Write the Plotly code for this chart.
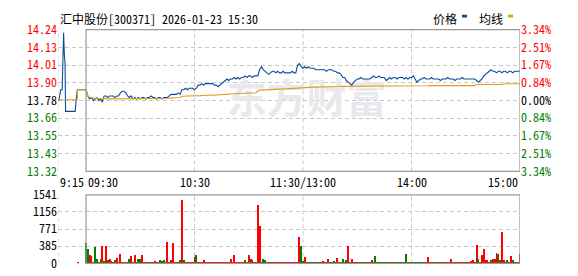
import plotly.graph_objects as go

# ---------------- data ----------------
title_text = "汇中股份[300371] 2026-01-23 15:30"
prev_close = 13.78

# pre-market (minutes relative to 09:30)
pre_t = [-15.0, -14.0, -13.2, -12.8, -12.4, -12.0, -11.6, -11.3, -6.0, -5.5, -4.8]
pre_price = [13.78, 13.85, 13.85, 14.13, 14.22, 14.08, 14.02, 13.71, 13.71, 13.78, 13.85]
pre_avg_t = [-15.0, -4.8, -4.7]
pre_avg = [13.785, 13.785, 13.85]
pre_vol_t = [-4.6]
pre_vol = [25]

price = [
    13.85, 13.81, 13.79, 13.80, 13.78, 13.79, 13.80, 13.78, 13.79, 13.77,
    13.81, 13.81, 13.80, 13.81, 13.81, 13.81, 13.80, 13.81, 13.81, 13.83,
    13.84, 13.84, 13.83, 13.81, 13.80, 13.81, 13.79, 13.80, 13.79, 13.80,
    13.79, 13.80, 13.80, 13.79, 13.80, 13.80, 13.81, 13.80, 13.80, 13.79,
    13.80, 13.80, 13.79, 13.80, 13.80, 13.80, 13.81, 13.82, 13.82, 13.82,
    13.82, 13.83, 13.82, 13.85, 13.85, 13.86, 13.85, 13.86, 13.86, 13.86,
    13.85, 13.86, 13.88, 13.88, 13.89, 13.88, 13.89, 13.89, 13.89, 13.89,
    13.89, 13.88, 13.88, 13.87, 13.88, 13.89, 13.90, 13.91, 13.92, 13.91,
    13.92, 13.92, 13.93, 13.92, 13.93, 13.92, 13.93, 13.93, 13.94, 13.93,
    13.94, 13.94, 13.93, 13.94, 13.94, 13.94, 13.98, 14.00, 13.98, 13.97,
    13.96, 13.95, 13.96, 13.97, 13.97, 13.96, 13.97, 13.96, 13.96, 13.97,
    13.96, 13.96, 13.96, 13.96, 13.97, 13.96, 13.96, 14.01, 14.02, 14.00,
    13.99, 14.00, 13.99, 14.00, 13.99, 13.99, 13.99, 13.98, 13.98, 13.98,
    13.98, 13.98, 13.98, 13.97, 13.98, 13.98, 13.98, 13.97, 13.97, 13.96,
    13.96, 13.95, 13.93, 13.93, 13.91, 13.90, 13.89, 13.88, 13.90, 13.91,
    13.92, 13.92, 13.93, 13.92, 13.92, 13.92, 13.92, 13.92, 13.93, 13.94,
    13.93, 13.93, 13.94, 13.93, 13.93, 13.93, 13.91, 13.92, 13.93, 13.92,
    13.93, 13.93, 13.92, 13.93, 13.93, 13.93, 13.92, 13.93, 13.92, 13.93,
    13.93, 13.94, 13.92, 13.90, 13.91, 13.92, 13.92, 13.93, 13.92, 13.92,
    13.92, 13.93, 13.92, 13.92, 13.92, 13.92, 13.91, 13.92, 13.92, 13.92,
    13.93, 13.92, 13.92, 13.92, 13.91, 13.92, 13.92, 13.92, 13.93, 13.92,
    13.92, 13.92, 13.92, 13.92, 13.92, 13.92, 13.91, 13.90, 13.91, 13.92,
    13.94, 13.95, 13.96, 13.97, 13.98, 13.97, 13.97, 13.96, 13.97, 13.97,
    13.96, 13.97, 13.97, 13.96, 13.97, 13.97, 13.96, 13.97, 13.97, 13.97, 13.97,
]

avg = [
    13.850, 13.810, 13.800, 13.800, 13.795, 13.795, 13.794, 13.793, 13.792, 13.791,
    13.791, 13.791, 13.791, 13.791, 13.791, 13.791, 13.791, 13.791, 13.792, 13.792,
    13.793, 13.793, 13.793, 13.793, 13.793, 13.793, 13.793, 13.793, 13.793, 13.793,
    13.793, 13.793, 13.793, 13.793, 13.793, 13.793, 13.793, 13.793, 13.793, 13.793,
    13.793, 13.793, 13.793, 13.793, 13.793, 13.795, 13.796, 13.797, 13.799, 13.800,
    13.800, 13.800, 13.800, 13.808, 13.808, 13.808, 13.809, 13.809, 13.809, 13.810,
    13.810, 13.811, 13.812, 13.812, 13.813, 13.813, 13.814, 13.814, 13.815, 13.815,
    13.816, 13.816, 13.817, 13.817, 13.818, 13.818, 13.819, 13.820, 13.821, 13.822,
    13.823, 13.823, 13.825, 13.825, 13.826, 13.826, 13.827, 13.827, 13.828, 13.828,
    13.830, 13.830, 13.831, 13.831, 13.831, 13.842, 13.848, 13.848, 13.849, 13.849,
    13.850, 13.850, 13.851, 13.852, 13.852, 13.853, 13.853, 13.854, 13.854, 13.855,
    13.855, 13.856, 13.856, 13.857, 13.857, 13.858, 13.858, 13.859, 13.862, 13.864,
    13.864, 13.865, 13.865, 13.866, 13.866, 13.866, 13.867, 13.867, 13.867, 13.868,
    13.868, 13.868, 13.869, 13.869, 13.869, 13.870, 13.870, 13.870, 13.871, 13.871,
    13.871, 13.872, 13.872, 13.872, 13.872, 13.873, 13.873, 13.873, 13.873, 13.873,
    13.874, 13.874, 13.874, 13.874, 13.875, 13.875, 13.875, 13.875, 13.875, 13.875,
    13.876, 13.876, 13.876, 13.876, 13.876, 13.876, 13.876, 13.876, 13.876, 13.876,
    13.876, 13.876, 13.876, 13.876, 13.876, 13.876, 13.876, 13.876, 13.876, 13.876,
    13.876, 13.876, 13.876, 13.876, 13.876, 13.876, 13.876, 13.876, 13.876, 13.876,
    13.877, 13.877, 13.877, 13.877, 13.877, 13.877, 13.877, 13.877, 13.877, 13.877,
    13.877, 13.877, 13.877, 13.877, 13.877, 13.877, 13.877, 13.877, 13.877, 13.877,
    13.877, 13.877, 13.877, 13.877, 13.877, 13.877, 13.884, 13.884, 13.884, 13.884,
    13.884, 13.884, 13.884, 13.884, 13.884, 13.884, 13.884, 13.884, 13.884, 13.884,
    13.884, 13.889, 13.889, 13.889, 13.889, 13.889, 13.889, 13.889, 13.889, 13.889, 13.889,
]

volume = [
    457, 316, 197, 176, 40, 366, 105, 30, 105, 387,
    50, 387, 84, 105, 60, 20, 84, 126, 30, 204,
    30, 25, 30, 20, 105, 176, 30, 197, 40, 105,
    105, 190, 30, 20, 40, 25, 30, 20, 50, 30,
    40, 70, 60, 70, 30, 492, 30, 70, 457, 30,
    25, 30, 70, 1428, 70, 30, 25, 30, 20, 30,
    140, 190, 40, 40, 30, 70, 25, 20, 30, 20,
    25, 20, 30, 20, 25, 30, 20, 25, 40, 30,
    105, 30, 190, 30, 40, 30, 40, 20, 70, 30,
    190, 105, 70, 30, 40, 1315, 844, 40, 105, 70,
    30, 25, 30, 20, 30, 25, 30, 20, 40, 30,
    25, 20, 30, 20, 25, 30, 20, 30, 598, 400,
    50, 140, 30, 25, 30, 20, 30, 25, 20, 30,
    25, 50, 30, 20, 105, 30, 30, 50, 20, 126,
    30, 20, 105, 30, 70, 400, 30, 105, 30, 20,
    30, 25, 30, 20, 25, 30, 20, 30, 84, 30,
    176, 30, 25, 20, 30, 25, 30, 20, 40, 30,
    25, 20, 30, 20, 30, 25, 20, 211, 40, 30,
    25, 30, 20, 30, 25, 20, 30, 20, 30, 140,
    30, 40, 25, 20, 30, 40, 25, 30, 20, 30,
    25, 30, 105, 30, 25, 30, 20, 40, 30, 20,
    30, 20, 30, 50, 84, 30, 422, 105, 30, 190,
    316, 84, 70, 30, 84, 105, 105, 239, 204, 84,
    703, 70, 30, 70, 30, 176, 70, 30, 40, 30, 211,
]

direction = (
    "GGRRRGGRGR" "GRGRRRGRRR" "RGRRGRRRRG" "GRRRRGRRRG" "RGGGRRRRRR"
    "RRGRGRRRRR" "RGRRRRRRRR" "RRRRRRRRRR" "RRRRRRRRGR" "RGRRRRRGGG"
    "RRRRRGRRRR" "RRRRRRRRRG" "GRGGGRGGRG" "RRGGRGRGGR" "RGGRGRGRGR"
    "RRGGRGRGRG" "GGGGRGGRGR" "RRGGGRGGRG" "RGGGGRGGRR" "RRGRRRGRRR"
    "RRRRGRRRRG" "RRRRRRRGRR" "RRRRGRRGRG" "RRRGRRGRGRR"
)

price_ticks = [13.32, 13.435, 13.55, 13.665, 13.78, 13.895, 14.01, 14.125, 14.24]
price_labels = ["13.32", "13.43", "13.55", "13.66", "13.78", "13.90", "14.01", "14.13", "14.24"]
pct_labels = ["3.34%", "2.51%", "1.67%", "0.84%", "0.00%", "0.84%", "1.67%", "2.51%", "3.34%"]
vol_ticks = [0, 385, 771, 1156, 1541]
vol_labels = ["0", "385", "771", "1156", "1541"]
time_labels = ["9:15", "09:30", "10:30", "11:30/13:00", "14:00", "15:00"]
time_pos = [-15.5, 0, 60, 120, 180, 240]
legend_names = ["价格", "均线"]
watermark = "东方财富"

# ---------------- styles ----------------
RED = "#ff0000"
GREEN = "#008000"
BLUE = "#0a4c9a"
ORANGE = "#e0a01c"
GRID = "#c8c8c8"
BORDER = "#999999"
FONT = "Noto Sans Mono CJK SC, Liberation Sans, Noto Sans CJK SC, sans-serif"

W, H = 578, 276
def px(xp):
    return xp / W
def py(yp):
    return 1 - yp / H

x_range = [-15.5, 240]
x_dom = [px(58), px(520)]
price_dom = [py(172), py(21)]
vol_dom = [py(270), py(197)]

def color_for(i):
    if i < 4:
        return GREEN
    if i == 4:
        return "#000000"
    return RED

left_text = [f'<span style="color:{color_for(i)}">{t}</span>' for i, t in enumerate(price_labels)]
right_text = [f'<span style="color:{color_for(i)}">{t}</span>' for i, t in enumerate(pct_labels)]

minutes = list(range(len(price)))

fig = go.Figure()

# watermark (below data lines)
fig.add_trace(go.Scatter(
    x=[122], y=[13.765], mode="text", text=[watermark],
    textfont=dict(family="Noto Sans CJK SC", size=40, color="#e8e8ed", weight="bold"),
    hoverinfo="skip", showlegend=False, xaxis="x", yaxis="y"))

fig.add_trace(go.Scatter(
    x=pre_t + minutes, y=pre_price + price, mode="lines",
    line=dict(color=BLUE, width=1.1), showlegend=False, xaxis="x", yaxis="y"))
fig.add_trace(go.Scatter(
    x=pre_avg_t + minutes, y=pre_avg + avg, mode="lines",
    line=dict(color=ORANGE, width=1.1), showlegend=False, xaxis="x", yaxis="y"))
# invisible trace for right axis
fig.add_trace(go.Scatter(
    x=[0], y=[prev_close], mode="markers", marker=dict(opacity=0),
    hoverinfo="skip", showlegend=False, xaxis="x", yaxis="y3"))

bar_colors = [RED if d == "R" else GREEN for d in direction]
fig.add_trace(go.Bar(
    x=pre_vol_t + minutes, y=pre_vol + volume,
    marker=dict(color=[RED] + bar_colors, line=dict(width=0)),
    width=0.55, showlegend=False, xaxis="x2", yaxis="y2"))

axis_font = dict(family=FONT, size=12, color="#000000")

fig.update_layout(
    width=W, height=H, margin=dict(l=0, r=0, t=0, b=0),
    paper_bgcolor="white", plot_bgcolor="white",
    bargap=0,
    xaxis=dict(domain=x_dom, range=x_range, showgrid=False, zeroline=False,
               showticklabels=False, showline=False, anchor="y", fixedrange=True),
    xaxis2=dict(domain=x_dom, range=x_range, showgrid=False, zeroline=False,
                showticklabels=False, showline=False, anchor="y2", fixedrange=True),
    yaxis=dict(domain=price_dom, range=[price_ticks[0], price_ticks[-1]],
               tickvals=price_ticks, ticktext=left_text, tickfont=axis_font,
               showgrid=True, gridcolor=GRID, griddash="4px,3px", gridwidth=1,
               zeroline=False, showline=False, ticks="", anchor="x"),
    yaxis3=dict(overlaying="y", side="right", range=[price_ticks[0], price_ticks[-1]],
                tickvals=price_ticks, ticktext=right_text, tickfont=axis_font,
                showgrid=False, zeroline=False, showline=False, ticks="", anchor="x"),
    yaxis2=dict(domain=vol_dom, range=[0, vol_ticks[-1]],
                tickvals=vol_ticks, ticktext=vol_labels, tickfont=axis_font,
                showgrid=True, gridcolor=GRID, griddash="4px,3px", gridwidth=1,
                zeroline=False, showline=False, ticks="", anchor="x2"),
)

shapes = []
for xr, yr in (("x", "y domain"), ("x2", "y2 domain")):
    for xv in (-15.5, 60, 120, 180):
        shapes.append(dict(type="line", xref=xr, yref=yr, x0=xv, x1=xv, y0=0, y1=1,
                           line=dict(color=GRID, width=1, dash="4px,3px"), layer="below"))
    shapes.append(dict(type="rect", xref=xr, yref=yr, x0=0, x1=240, y0=0, y1=1,
                       line=dict(color=BORDER, width=1.2), layer="above"))

# legend markers
shapes.append(dict(type="rect", xref="paper", yref="paper", x0=px(462), x1=px(467),
                   y0=py(8), y1=py(5), fillcolor=BLUE, line=dict(width=0)))
shapes.append(dict(type="rect", xref="paper", yref="paper", x0=px(508), x1=px(513),
                   y0=py(8), y1=py(5), fillcolor=ORANGE, line=dict(width=0)))
fig.update_layout(shapes=shapes)

ann = []
ann.append(dict(text=title_text, xref="paper", yref="paper", x=px(58), y=py(9),
                xanchor="left", yanchor="middle", showarrow=False, font=axis_font))
ann.append(dict(text=legend_names[0], xref="paper", yref="paper", x=px(431), y=py(9),
                xanchor="left", yanchor="middle", showarrow=False, font=axis_font))
ann.append(dict(text=legend_names[1], xref="paper", yref="paper", x=px(477), y=py(9),
                xanchor="left", yanchor="middle", showarrow=False, font=axis_font))
anchors = ["left", "left", "center", "center", "center", "right"]
for t, xv, a in zip(time_labels, time_pos, anchors):
    ann.append(dict(text=t, xref="x", yref="paper", x=xv, y=py(183),
                    xanchor=a, yanchor="middle", showarrow=False, font=axis_font))
fig.update_layout(annotations=ann)

fig.write_html("out.html")
